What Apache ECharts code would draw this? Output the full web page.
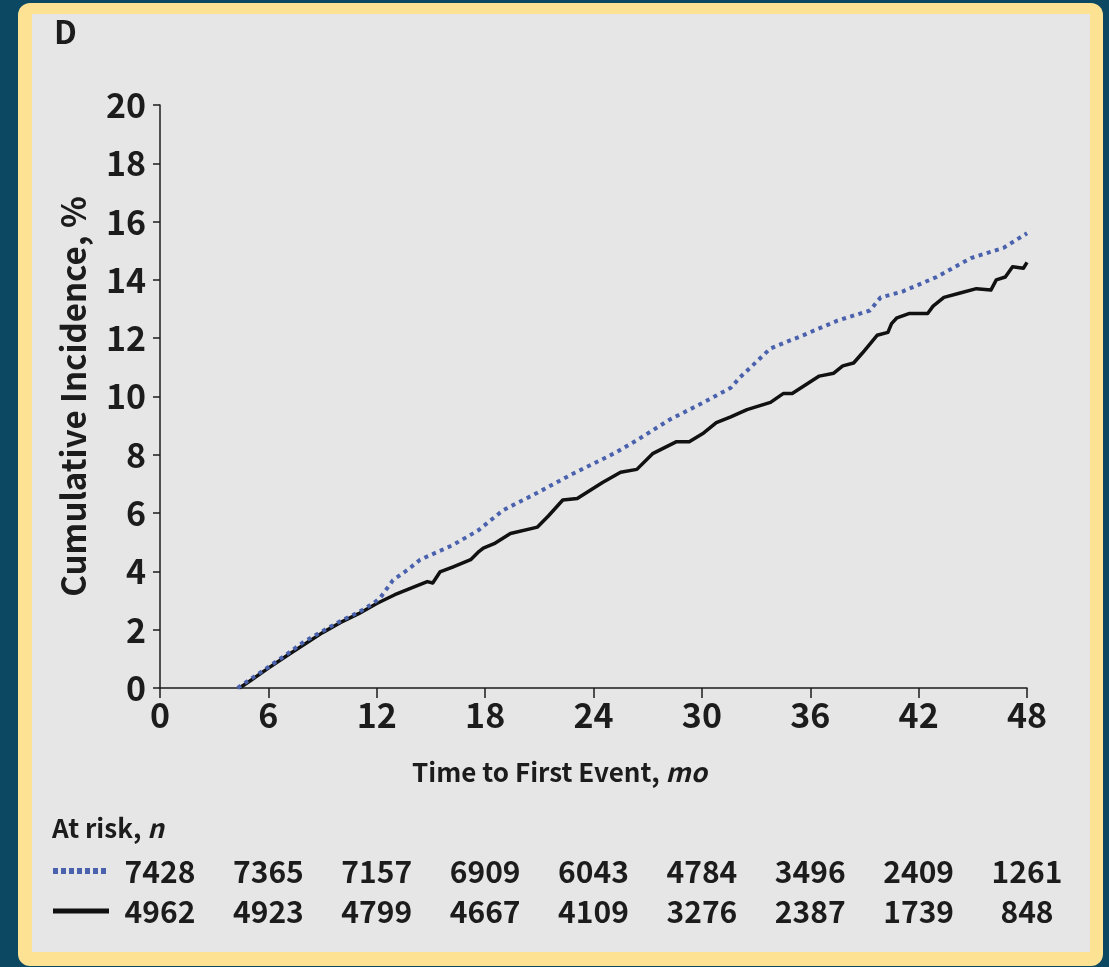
<!DOCTYPE html>
<html>
<head>
<meta charset="utf-8">
<script src="https://cdn.jsdelivr.net/npm/echarts@6/dist/echarts.min.js"></script>
<style>
  html, body { margin: 0; padding: 0; width: 1109px; height: 967px; background: #0c4862; overflow: hidden; }
  #frame { position: absolute; left: 18px; top: 3px; width: 1085px; height: 963px; background: #fde293; border-radius: 12px; }
  #panel { position: absolute; left: 32px; top: 14px; width: 1058px; height: 938px; background: #e6e6e6; }
  #chart { position: absolute; left: 0; top: 0; width: 1109px; height: 967px; }
</style>
</head>
<body>
<div id="frame"></div>
<div id="panel"></div>
<div id="chart"></div>
<script>
// Tick labels and at-risk columns (months)
const monthTicks = [0, 6, 12, 18, 24, 30, 36, 42, 48];

// Cumulative incidence (%) by month, dotted blue group
const blueCurve = [
  [4.3, 0], [5, 0.3], [6, 0.72], [7, 1.15], [8, 1.6], [9, 1.95], [10, 2.3], [11, 2.6],
  [11.8, 2.9], [12.2, 3.1], [12.9, 3.7], [13.7, 4.05], [14.4, 4.4], [15.3, 4.65],
  [16.2, 4.9], [17.6, 5.4], [19, 6.1], [20.9, 6.7], [22.7, 7.3], [24.5, 7.85],
  [25.3, 8.1], [26.4, 8.5], [28.2, 9.2], [30.1, 9.8], [31, 10.1], [31.6, 10.3],
  [32.1, 10.65], [33.8, 11.65], [35.6, 12.1], [37.5, 12.6], [39.3, 12.95], [39.9, 13.4],
  [41.1, 13.6], [43, 14.1], [44.9, 14.75], [46.7, 15.1], [48, 15.6]
];

// Cumulative incidence (%) by month, solid black group
const blackCurve = [
  [4.4, 0], [5, 0.25], [6, 0.68], [7, 1.1], [8, 1.5], [9, 1.9], [10, 2.25], [11, 2.55],
  [12, 2.9], [13, 3.2], [14, 3.45], [14.8, 3.65], [15.1, 3.6], [15.5, 3.98], [16.2, 4.15],
  [17.2, 4.4], [17.6, 4.65], [17.9, 4.8], [18.5, 4.95], [19.4, 5.3], [20.9, 5.52],
  [21.5, 5.9], [22.3, 6.45], [23.1, 6.5], [24.5, 7.05], [25.5, 7.4], [26.4, 7.5],
  [27.3, 8.05], [28.6, 8.45], [29.3, 8.45], [30.1, 8.75], [30.8, 9.1], [31.6, 9.3],
  [32.5, 9.55], [33.8, 9.8], [34.5, 10.1], [35.0, 10.1], [36.5, 10.7], [37.3, 10.8],
  [37.8, 11.05], [38.4, 11.15], [38.9, 11.5], [39.7, 12.1], [40.3, 12.2], [40.5, 12.5],
  [40.8, 12.7], [41.5, 12.85], [42.5, 12.85], [42.8, 13.1], [43.4, 13.4], [44.3, 13.55],
  [45.2, 13.7], [46.0, 13.65], [46.3, 14.0], [46.8, 14.1], [47.2, 14.45], [47.8, 14.4],
  [48, 14.6]
];

// Numbers at risk at each month tick
const atRiskBlue = [7428, 7365, 7157, 6909, 6043, 4784, 3496, 2409, 1261];
const atRiskBlack = [4962, 4923, 4799, 4667, 4109, 3276, 2387, 1739, 848];

const FONT = "'Noto Sans CJK SC', 'Open Sans', sans-serif";
const INK = '#1c1c1c';
const BLUE = '#4a62ad';

const chart = echarts.init(document.getElementById('chart'), null, { renderer: 'canvas' });

const riskRow = (values, row) => monthTicks.map((m, i) => [m, row, values[i]]);

const riskLabel = {
  show: true, position: 'inside', formatter: p => p.value[2],
  color: INK, opacity: 1, fontFamily: FONT, fontWeight: 'bold', fontSize: 30
};

chart.setOption({
  backgroundColor: 'transparent',
  animation: false,
  grid: [
    { left: 160, right: 82, top: 105, bottom: 279 },
    { left: 160, right: 82, top: 852, height: 80 }
  ],
  xAxis: [
    {
      type: 'value', gridIndex: 0, min: 0, max: 48, interval: 6,
      axisLine: { lineStyle: { color: INK, width: 1.5 } },
      axisTick: { show: true, length: 10, lineStyle: { color: INK, width: 1.5 } },
      splitLine: { show: false },
      axisLabel: { color: INK, fontFamily: FONT, fontWeight: 'bold', fontSize: 34, margin: 10 },
      name: '{n|Time to First Event, }{i|mo}',
      nameLocation: 'middle',
      nameGap: 71,
      nameTextStyle: {
        padding: [0, 68, 0, 0],
        rich: {
          n: { fontFamily: FONT, fontWeight: 'bold', fontSize: 26, color: INK },
          i: { fontFamily: FONT, fontWeight: 'bold', fontStyle: 'italic', fontSize: 26, color: INK }
        }
      }
    },
    { type: 'value', gridIndex: 1, min: 0, max: 48, interval: 6, show: false }
  ],
  yAxis: [
    {
      type: 'value', gridIndex: 0, min: 0, max: 20, interval: 2,
      axisLine: { show: true, lineStyle: { color: INK, width: 1.5 } },
      axisTick: { show: true, length: 7, lineStyle: { color: INK, width: 1.5 } },
      splitLine: { show: false },
      axisLabel: { color: INK, fontFamily: FONT, fontWeight: 'bold', fontSize: 34, margin: 14 },
      name: 'Cumulative Incidence, %',
      nameLocation: 'middle',
      nameGap: 70,
      nameTextStyle: { fontFamily: FONT, fontWeight: 'bold', fontSize: 33, color: INK }
    },
    { type: 'category', gridIndex: 1, data: ['blue', 'black'], inverse: true, show: false }
  ],
  graphic: [
    { type: 'text', left: 54, top: 16, style: { text: 'D', font: 'bold 32px ' + FONT, fill: INK } },
    {
      type: 'text', left: 52, top: 815,
      style: {
        text: '{n|At risk, }{i|n}',
        rich: {
          n: { font: 'bold 26px ' + FONT, fill: INK },
          i: { font: 'italic bold 26px ' + FONT, fill: INK }
        }
      }
    },
    {
      type: 'line', shape: { x1: 53, y1: 871, x2: 109, y2: 871 },
      style: { stroke: BLUE, lineWidth: 6, lineDash: [5, 3] }
    },
    {
      type: 'line', shape: { x1: 53, y1: 911, x2: 109, y2: 911 },
      style: { stroke: '#111', lineWidth: 5 }
    }
  ],
  series: [
    {
      name: 'Black', type: 'line', xAxisIndex: 0, yAxisIndex: 0, data: blackCurve,
      showSymbol: false, silent: true,
      lineStyle: { color: '#111', width: 3.5, join: 'round' }
    },
    {
      name: 'Blue', type: 'line', xAxisIndex: 0, yAxisIndex: 0, data: blueCurve,
      showSymbol: false, silent: true,
      lineStyle: { color: BLUE, width: 4, type: [4, 4.5], cap: 'butt' }
    },
    {
      name: 'At risk blue', type: 'scatter', xAxisIndex: 1, yAxisIndex: 1,
      data: riskRow(atRiskBlue, 0), symbolSize: 1,
      itemStyle: { color: 'transparent', opacity: 1 }, silent: true,
      label: riskLabel
    },
    {
      name: 'At risk black', type: 'scatter', xAxisIndex: 1, yAxisIndex: 1,
      data: riskRow(atRiskBlack, 1), symbolSize: 1,
      itemStyle: { color: 'transparent', opacity: 1 }, silent: true,
      label: riskLabel
    }
  ]
});
</script>
</body>
</html>
